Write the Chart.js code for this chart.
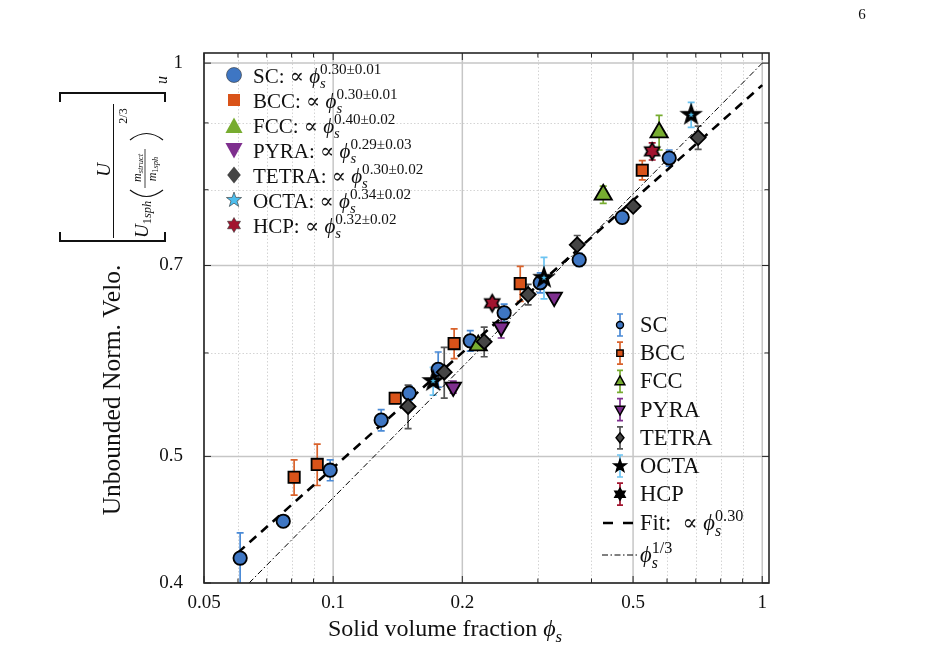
<!DOCTYPE html>
<html><head><meta charset="utf-8">
<script src="https://cdn.jsdelivr.net/npm/chart.js@4.4.1/dist/chart.umd.min.js"></script>
<style>html,body{margin:0;padding:0;background:#fff;}#wrap{width:929px;height:665px;position:relative;}</style>
</head><body><div id="wrap"><canvas id="c" width="929" height="665"></canvas></div>
<script>
const SERIF = '"Liberation Serif", "DejaVu Serif", serif';

// ---------- data ----------
const seriesNames = ['SC','BCC','FCC','PYRA','TETRA','OCTA','HCP'];
const seriesExponents = ['0.30±0.01','0.30±0.01','0.40±0.02','0.29±0.03','0.30±0.02','0.34±0.02','0.32±0.02'];

const scPhi = [0.0607, 0.0765, 0.0984, 0.1294, 0.1504, 0.1757, 0.2087, 0.2503, 0.3038, 0.3745, 0.4717, 0.607];
const scVel = [0.418, 0.446, 0.488, 0.533, 0.559, 0.583, 0.613, 0.644, 0.679, 0.707, 0.762, 0.846];
const scErr = [0.019, 0.004, 0.009, 0.010, 0.007, 0.018, 0.011, 0.010, 0.012, 0.008, 0.006, 0.012];

const bccPhi = [0.0811, 0.0918, 0.1395, 0.1914, 0.2729, 0.5253];
const bccVel = [0.482, 0.493, 0.554, 0.610, 0.678, 0.828];
const bccErr = [0.015, 0.018, 0.004, 0.016, 0.021, 0.014];

const fccPhi = [0.2178, 0.426, 0.575];
const fccVel = [0.608, 0.793, 0.885];
const fccErr = [0.004, 0.012, 0.027];

const pyraPhi = [0.1905, 0.2464, 0.3274];
const pyraVel = [0.565, 0.628, 0.662];
const pyraErr = [0.006, 0.012, 0.004];

const tetraPhi = [0.1495, 0.1815, 0.2249, 0.2847, 0.3705, 0.5004, 0.709];
const tetraVel = [0.546, 0.580, 0.612, 0.665, 0.726, 0.777, 0.877];
const tetraErr = [0.021, 0.026, 0.016, 0.012, 0.012, 0.006, 0.018];

const octaPhi = [0.171, 0.310, 0.683];
const octaVel = [0.571, 0.685, 0.913];
const octaErr = [0.014, 0.025, 0.020];

const hcpPhi = [0.2348, 0.554];
const hcpVel = [0.655, 0.856];
const hcpErr = [0.004, 0.013];

const fitPhi = [0.06, 1.0];
const fitVel = [0.422, 0.962];
const refPhi = [0.0637, 1.0];
const refVel = [0.4, 1.0];

const xTickVals = [0.05, 0.1, 0.2, 0.5, 1];
const xTickLabels = ['0.05', '0.1', '0.2', '0.5', '1'];
const yTickVals = [0.4, 0.5, 0.7, 1];
const yTickLabels = ['0.4', '0.5', '0.7', '1'];
const xMinorVals = [0.06, 0.07, 0.08, 0.09, 0.3, 0.4, 0.6, 0.7, 0.8, 0.9];
const yMinorVals = [0.6, 0.8, 0.9];

// ---------- styles ----------
const COL = {
  SC:   {fill:'#3e76c3', err:'#4a8ad6', shape:'circle'},
  BCC:  {fill:'#d95319', err:'#d9622b', shape:'square'},
  FCC:  {fill:'#77ac30', err:'#77ac30', shape:'tri'},
  PYRA: {fill:'#7e2f8e', err:'#7e2f8e', shape:'triD'},
  TETRA:{fill:'#454545', err:'#555555', shape:'diamond'},
  OCTA: {fill:'#4dbeee', err:'#6cc4f2', shape:'star5'},
  HCP:  {fill:'#a2142f', err:'#a2142f', shape:'star6'}
};

function shapePath(ctx, kind, x, y, r) {
  ctx.beginPath();
  if (kind === 'circle') ctx.arc(x, y, r, 0, Math.PI * 2);
  else if (kind === 'square') ctx.rect(x - r, y - r, 2 * r, 2 * r);
  else if (kind === 'tri') { ctx.moveTo(x, y - r); ctx.lineTo(x + r * 0.9, y + r * 0.62); ctx.lineTo(x - r * 0.9, y + r * 0.62); ctx.closePath(); }
  else if (kind === 'triD') { ctx.moveTo(x, y + r); ctx.lineTo(x + r * 0.9, y - r * 0.62); ctx.lineTo(x - r * 0.9, y - r * 0.62); ctx.closePath(); }
  else if (kind === 'diamond') { ctx.moveTo(x, y - r); ctx.lineTo(x + r * 0.8, y); ctx.lineTo(x, y + r); ctx.lineTo(x - r * 0.8, y); ctx.closePath(); }
  else if (kind === 'star5' || kind === 'star6') {
    const n = kind === 'star5' ? 5 : 6, ri = kind === 'star5' ? r * 0.4 : r * 0.577;
    for (let i = 0; i < 2 * n; i++) {
      const a = -Math.PI / 2 + i * Math.PI / n, rr = i % 2 ? ri : r;
      const px = x + rr * Math.cos(a), py = y + rr * Math.sin(a);
      i ? ctx.lineTo(px, py) : ctx.moveTo(px, py);
    }
    ctx.closePath();
  }
}
function drawShape(ctx, kind, x, y, r, fill, stroke, lw) {
  shapePath(ctx, kind, x, y, r);
  if (fill) { ctx.fillStyle = fill; ctx.fill(); }
  if (stroke) { ctx.strokeStyle = stroke; ctx.lineWidth = lw; ctx.lineJoin = 'miter'; ctx.stroke(); }
}
function markerCanvas(kind, r, fill, lw, inner) {
  const s = Math.ceil(2 * r + 2 * lw + 4);
  const cv = document.createElement('canvas'); cv.width = s; cv.height = s;
  const g = cv.getContext('2d');
  drawShape(g, kind, s / 2, s / 2, r, inner ? '#000' : fill, '#000', lw);
  if (inner) drawShape(g, kind, s / 2, s / 2, r * inner, fill, null, 0);
  return cv;
}
const octaImg = markerCanvas('star5', 10, COL.OCTA.fill, 1.6, 0.3);
const hcpImg = markerCanvas('star6', 8.5, COL.HCP.fill, 1.7, 0);

function pts(xs, ys) { return xs.map((x, i) => ({x: x, y: ys[i]})); }
const base = {showLine:false, pointBorderColor:'#000', pointBorderWidth:1.8, pointHoverRadius:0};
const datasets = [
  Object.assign({}, base, {label:'SC', data:pts(scPhi, scVel), err:scErr, errColor:COL.SC.err, pointStyle:'circle', pointRadius:6.7, backgroundColor:COL.SC.fill, order:7}),
  Object.assign({}, base, {label:'BCC', data:pts(bccPhi, bccVel), err:bccErr, errColor:COL.BCC.err, pointStyle:'rect', pointRadius:8, backgroundColor:COL.BCC.fill, order:6}),
  Object.assign({}, base, {label:'FCC', data:pts(fccPhi, fccVel), err:fccErr, errColor:COL.FCC.err, pointStyle:'triangle', pointRadius:10, backgroundColor:COL.FCC.fill, order:5}),
  Object.assign({}, base, {label:'PYRA', data:pts(pyraPhi, pyraVel), err:pyraErr, errColor:COL.PYRA.err, pointStyle:'triangle', rotation:180, pointRotation:180, pointRadius:9, backgroundColor:COL.PYRA.fill, order:4}),
  Object.assign({}, base, {label:'TETRA', data:pts(tetraPhi, tetraVel), err:tetraErr, errColor:COL.TETRA.err, pointStyle:'rectRot', pointRadius:7.5, backgroundColor:COL.TETRA.fill, order:3}),
  Object.assign({}, base, {label:'OCTA', data:pts(octaPhi, octaVel), err:octaErr, errColor:COL.OCTA.err, pointStyle:octaImg, pointRadius:10, backgroundColor:COL.OCTA.fill, order:2}),
  Object.assign({}, base, {label:'HCP', data:pts(hcpPhi, hcpVel), err:hcpErr, errColor:COL.HCP.err, pointStyle:hcpImg, pointRadius:9, backgroundColor:COL.HCP.fill, order:1}),
  {label:'Fit', data:pts(fitPhi, fitVel), showLine:true, pointRadius:0, borderColor:'#000', borderWidth:2.6, borderDash:[9, 6.5], fill:false, order:20},
  {label:'ref', data:pts(refPhi, refVel), showLine:true, pointRadius:0, borderColor:'#000', borderWidth:1, borderDash:[6, 2.5, 1.5, 2.5], fill:false, order:21}
];

// ---------- rich text helpers ----------
function pf(p) { return (p.it ? 'italic ' : '') + p.size.toFixed(2) + 'px ' + SERIF; }
function measureParts(ctx, parts) {
  let w = 0;
  for (const p of parts) {
    if (p.stack) { let m = 0; for (const q of p.stack) { ctx.font = pf(q); m = Math.max(m, ctx.measureText(q.t).width); } w += m; }
    else { ctx.font = pf(p); w += ctx.measureText(p.t).width + (p.gap || 0); }
  }
  return w;
}
function drawRich(ctx, parts, x, y, align) {
  const w = measureParts(ctx, parts);
  let cx = align === 'center' ? x - w / 2 : align === 'right' ? x - w : x;
  ctx.textAlign = 'left'; ctx.textBaseline = 'alphabetic';
  for (const p of parts) {
    if (p.stack) {
      let m = 0;
      for (const q of p.stack) { ctx.font = pf(q); ctx.fillText(q.t, cx, y + (q.dy || 0)); m = Math.max(m, ctx.measureText(q.t).width); }
      cx += m;
    } else { ctx.font = pf(p); ctx.fillText(p.t, cx, y + (p.dy || 0)); cx += ctx.measureText(p.t).width + (p.gap || 0); }
  }
  return w;
}
function drawRichRot(ctx, parts, sx, sy, align) {
  ctx.save(); ctx.translate(sx, sy); ctx.rotate(-Math.PI / 2);
  drawRich(ctx, parts, 0, 0, align);
  ctx.restore();
}
function phiParts(B, sup) {
  return [{t:'ϕ', size:B, it:true}, {stack:[{t:'s', size:B * 0.7, it:true, dy:B * 0.26}, {t:sup, size:B * 0.72, dy:-B * 0.42}]}];
}

// ---------- plugins ----------
const framePlugin = {
  id:'frame',
  beforeDatasetsDraw(chart) {
    const ctx = chart.ctx, a = chart.chartArea, xs = chart.scales.x, ys = chart.scales.y;
    ctx.save();
    ctx.strokeStyle = '#d4d4d4'; ctx.lineWidth = 1; ctx.setLineDash([1.5, 2]);
    for (const v of xMinorVals) { const p = Math.round(xs.getPixelForValue(v)) + 0.5; ctx.beginPath(); ctx.moveTo(p, a.top); ctx.lineTo(p, a.bottom); ctx.stroke(); }
    for (const v of yMinorVals) { const p = Math.round(ys.getPixelForValue(v)) + 0.5; ctx.beginPath(); ctx.moveTo(a.left, p); ctx.lineTo(a.right, p); ctx.stroke(); }
    ctx.setLineDash([]); ctx.strokeStyle = '#c6c6c6'; ctx.lineWidth = 1.5;
    for (const v of xTickVals) { const p = xs.getPixelForValue(v); ctx.beginPath(); ctx.moveTo(p, a.top); ctx.lineTo(p, a.bottom); ctx.stroke(); }
    for (const v of yTickVals) { const p = ys.getPixelForValue(v); ctx.beginPath(); ctx.moveTo(a.left, p); ctx.lineTo(a.right, p); ctx.stroke(); }
    ctx.beginPath(); ctx.rect(a.left, a.top, a.right - a.left, a.bottom - a.top); ctx.clip();
    chart.data.datasets.forEach((ds) => {
      if (!ds.err) return;
      ctx.strokeStyle = ds.errColor; ctx.lineWidth = 1.7;
      ds.data.forEach((d, i) => {
        const e = ds.err[i];
        const px = xs.getPixelForValue(d.x), p1 = ys.getPixelForValue(d.y + e), p2 = ys.getPixelForValue(d.y - e);
        ctx.beginPath();
        ctx.moveTo(px, p1); ctx.lineTo(px, p2);
        ctx.moveTo(px - 3.5, p1); ctx.lineTo(px + 3.5, p1);
        ctx.moveTo(px - 3.5, p2); ctx.lineTo(px + 3.5, p2);
        ctx.stroke();
      });
    });
    ctx.restore();
  },
  afterDatasetsDraw(chart) {
    const ctx = chart.ctx, a = chart.chartArea, xs = chart.scales.x, ys = chart.scales.y;
    ctx.save();
    ctx.strokeStyle = '#262626'; ctx.lineWidth = 1;
    const tick = (vals, len) => {
      for (const v of vals) {
        const p = xs.getPixelForValue(v);
        ctx.beginPath(); ctx.moveTo(p, a.bottom); ctx.lineTo(p, a.bottom - len); ctx.moveTo(p, a.top); ctx.lineTo(p, a.top + len); ctx.stroke();
      }
    };
    tick(xTickVals, 7); tick(xMinorVals, 4.5);
    const ytick = (vals, len) => {
      for (const v of vals) {
        const p = ys.getPixelForValue(v);
        ctx.beginPath(); ctx.moveTo(a.left, p); ctx.lineTo(a.left + len, p); ctx.moveTo(a.right, p); ctx.lineTo(a.right - len, p); ctx.stroke();
      }
    };
    ytick(yTickVals, 7); ytick(yMinorVals, 4.5);
    ctx.lineWidth = 1.6; ctx.strokeStyle = '#262626';
    ctx.strokeRect(a.left, a.top, a.right - a.left, a.bottom - a.top);
    ctx.restore();
  },
  afterDraw(chart) {
    const ctx = chart.ctx;
    ctx.save(); ctx.fillStyle = '#111';
    ctx.font = '15px ' + SERIF; ctx.textAlign = 'center'; ctx.fillText('6', 862, 19);

    const xt = [{t:'Solid volume fraction ', size:24}].concat(phiParts(24, ''));
    drawRich(ctx, xt, 445, 636, 'center');

    drawRichRot(ctx, [{t:'Unbounded Norm. Velo.', size:25.5}], 120, 390, 'center');
    ctx.strokeStyle = '#111'; ctx.lineWidth = 2;
    ctx.beginPath(); ctx.moveTo(60, 102); ctx.lineTo(60, 93); ctx.lineTo(165, 93); ctx.lineTo(165, 102); ctx.stroke();
    ctx.beginPath(); ctx.moveTo(60, 232); ctx.lineTo(60, 241); ctx.lineTo(165, 241); ctx.lineTo(165, 232); ctx.stroke();
    drawRichRot(ctx, [{t:'u', size:16, it:true}], 167, 80, 'center');
    drawRichRot(ctx, [{t:'U', size:19, it:true}], 110, 170, 'center');
    ctx.lineWidth = 1; ctx.beginPath(); ctx.moveTo(113.5, 104); ctx.lineTo(113.5, 238); ctx.stroke();
    drawRichRot(ctx, [{t:'U', size:19, it:true}, {t:'1', size:12.5, dy:3}, {t:'sph', size:12.5, it:true, dy:3}], 148, 238, 'left');
    ctx.lineWidth = 1.2;
    ctx.beginPath(); ctx.moveTo(130, 190); ctx.quadraticCurveTo(146.5, 203, 163, 190); ctx.stroke();
    ctx.beginPath(); ctx.moveTo(130, 140); ctx.quadraticCurveTo(146.5, 127, 163, 140); ctx.stroke();
    drawRichRot(ctx, [{t:'m', size:12, it:true}, {t:'struct', size:8.5, it:true, dy:2}], 141, 168, 'center');
    ctx.lineWidth = 0.8; ctx.beginPath(); ctx.moveTo(145, 188); ctx.lineTo(145, 149); ctx.stroke();
    drawRichRot(ctx, [{t:'m', size:12, it:true}, {t:'1', size:8.5, dy:2}, {t:'sph', size:8.5, it:true, dy:2}], 155.5, 169, 'center');
    drawRichRot(ctx, [{t:'2/3', size:12}], 127, 116, 'center');

    const B1 = 21;
    seriesNames.forEach((n, i) => {
      const y = 83 + 25 * i, c = COL[n];
      const r = {circle:7.5, square:6, tri:9.5, triD:9.5, diamond:8.5, star5:8, star6:7.5}[c.shape];
      const yy = c.shape === 'tri' ? y - 6 : c.shape === 'triD' ? y - 9 : y - 8;
      drawShape(ctx, c.shape, 234, yy, r, c.fill, (c.shape === 'circle' || c.shape === 'star5' || c.shape === 'star6') ? '#333' : null, 0.6);
      ctx.fillStyle = '#111';
      drawRich(ctx, [{t:n + ': ', size:B1}, {t:'∝ ', size:B1}].concat(phiParts(B1, seriesExponents[i])), 253, y, 'left');
    });

    const B2 = 22.5;
    seriesNames.forEach((n, i) => {
      const y = 332 + 28.2 * i, c = COL[n], cy = y - 7;
      ctx.strokeStyle = c.err; ctx.lineWidth = 1.7;
      ctx.beginPath(); ctx.moveTo(620, cy - 11); ctx.lineTo(620, cy + 11);
      ctx.moveTo(617, cy - 11); ctx.lineTo(623, cy - 11); ctx.moveTo(617, cy + 11); ctx.lineTo(623, cy + 11); ctx.stroke();
      let fill = c.fill, r = {circle:3.5, square:3.2, tri:5.5, triD:5.5, diamond:5, star5:6.5, star6:6}[c.shape];
      if (c.shape === 'star5' || c.shape === 'star6') fill = '#000';
      drawShape(ctx, c.shape, 620, cy, r, fill, '#000', 1.4);
      ctx.fillStyle = '#111';
      drawRich(ctx, [{t:n, size:B2}], 640, y, 'left');
    });
    ctx.strokeStyle = '#000'; ctx.lineWidth = 2.6;
    ctx.beginPath(); ctx.moveTo(603, 523); ctx.lineTo(613, 523); ctx.moveTo(623, 523); ctx.lineTo(633, 523); ctx.stroke();
    ctx.fillStyle = '#111';
    drawRich(ctx, [{t:'Fit:  ∝ ', size:B2}].concat(phiParts(B2, '0.30')), 640, 530, 'left');
    ctx.lineWidth = 1; ctx.setLineDash([6, 2.5, 1.5, 2.5]);
    ctx.beginPath(); ctx.moveTo(602, 555); ctx.lineTo(638, 555); ctx.stroke(); ctx.setLineDash([]);
    drawRich(ctx, phiParts(B2, '1/3'), 640, 562, 'left');
    ctx.restore();
  }
};

new Chart(document.getElementById('c'), {
  type:'scatter',
  data:{datasets:datasets},
  plugins:[framePlugin],
  options:{
    responsive:false, animation:false, devicePixelRatio:1,
    layout:{padding:{left:0, right:160, top:53, bottom:0}},
    plugins:{legend:{display:false}, tooltip:{enabled:false}},
    events:[],
    scales:{
      x:{type:'logarithmic', min:0.05, max:1.037, bounds:'data',
        afterBuildTicks:(s) => { s.ticks = xTickVals.map(v => ({value:v})); },
        afterFit:(s) => { s.height = 82; },
        grid:{display:false, drawTicks:false, tickLength:0}, border:{display:false},
        ticks:{autoSkip:false, maxRotation:0, padding:9, color:'#111', font:{family:SERIF, size:19},
          callback:(v, i) => xTickLabels[i]}},
      y:{type:'logarithmic', min:0.4, max:1.018, bounds:'data',
        afterBuildTicks:(s) => { s.ticks = yTickVals.map(v => ({value:v})); },
        afterFit:(s) => { s.width = 204; },
        grid:{display:false, drawTicks:false, tickLength:0}, border:{display:false},
        ticks:{autoSkip:false, padding:21, color:'#111', font:{family:SERIF, size:19},
          callback:(v, i) => yTickLabels[i]}}
    }
  }
});
</script></body></html>
